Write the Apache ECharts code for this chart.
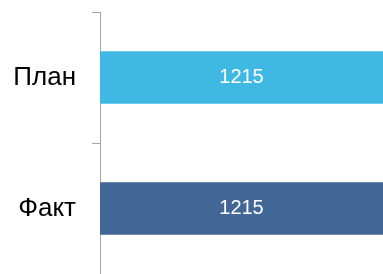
<!DOCTYPE html>
<html>
<head>
<meta charset="utf-8">
<script src="https://cdn.jsdelivr.net/npm/echarts@6/dist/echarts.min.js"></script>
<style>
	html, body { margin: 0; padding: 0; background: #fff; }
	#chart { width: 383px; height: 274px; }
</style>
</head>
<body>
<div id="chart"></div>
<script>
	// категории сверху вниз
	const categories = ['План', 'Факт']
	const values = [1215, 1215]
	const barColors = ['#40b8e4', '#416796']

	const dom = echarts.init(document.getElementById('chart'))
	const option = {
		animation: false,
		grid: {
			top: 12,
			left: 100,
			right: -3,
			height: 266
		},
		xAxis: {
			type: 'value',
			min: 0,
			max: 1215,
			show: false
		},
		yAxis: {
			type: 'category',
			data: categories,
			inverse: true,
			axisLine: {
				lineStyle: {
					color: '#a6a6a6',
					width: 1
				}
			},
			axisTick: {
				show: true,
				length: 8,
				lineStyle: {
					color: '#a6a6a6'
				}
			},
			axisLabel: {
				color: '#000',
				fontFamily: 'Liberation Sans',
				fontSize: 26,
				margin: 24
			}
		},
		series: [{
			type: 'bar',
			barWidth: '40%',
			data: values.map((v, i) => ({
				value: v,
				itemStyle: {
					color: barColors[i]
				}
			})),
			label: {
				show: true,
				position: 'inside',
				color: '#fff',
				fontFamily: 'Liberation Sans',
				fontSize: 20
			}
		}]
	}
	dom.setOption(option)
</script>
</body>
</html>
